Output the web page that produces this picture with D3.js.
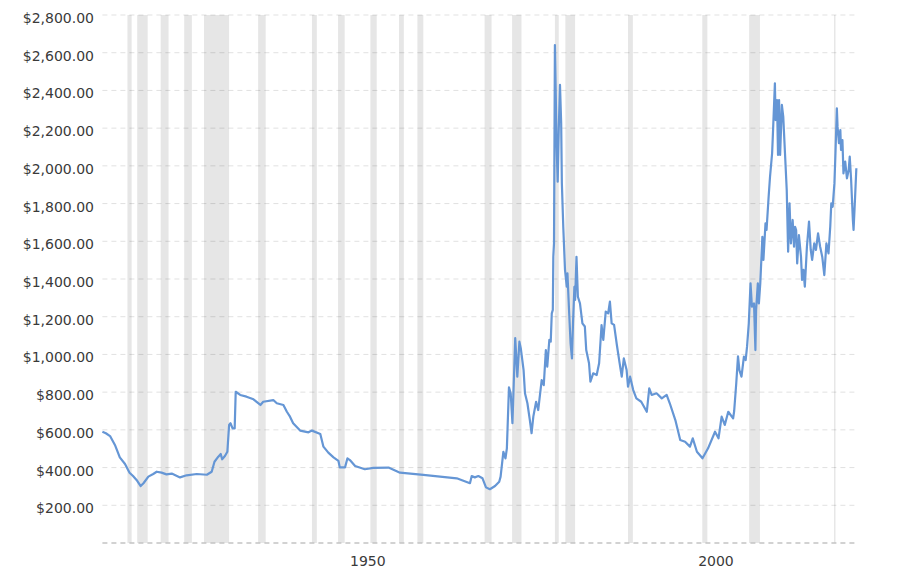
<!DOCTYPE html>
<html>
<head>
<meta charset="utf-8">
<script src="https://cdn.jsdelivr.net/npm/d3@7"></script>
<style>
  html, body { margin: 0; padding: 0; background: #fff; }
  svg { display: block; }
  text { font-family: "DejaVu Sans", Verdana, sans-serif; }
</style>
</head>
<body>
<svg id="chart" width="906" height="572"></svg>
<script>
// ---- data ----
const years = [
  1915.0,1915.5,1916.1,1916.8,1917.5,1918.25,1918.9,1919.4,1920.0,1920.5,1920.9,1921.6,1922.3,1922.8,1923.5,1924.2,1924.96,1926.15,1927.1,1928.55,
  1930.0,1930.7,1931.1,1931.65,1932.0,1932.2,1932.6,1932.95,1933.2,1933.4,1933.7,1934.0,1934.15,1934.8,1935.7,1936.7,1937.7,1938.1,1939.55,1940.05,
  1941.0,1941.5,1941.95,1942.4,1943.4,1944.6,1945.1,1946.3,1946.75,1947.45,1948.2,1948.9,1949.1,1949.85,1950.2,1950.55,1951.3,1952.7,1953.9,1956.1,
  1957.75,1961.1,1965.9,1967.8,1968.05,1968.5,1969.0,1969.6,1970.1,1970.66,1971.4,1972.0,1972.2,1972.6,1972.9,1973.1,1973.4,1973.65,1973.9,1974.3,
  1974.6,1974.9,1975.1,1975.5,1975.7,1976.05,1976.4,1976.65,1976.9,1977.3,1977.6,1978.1,1978.4,1978.7,1978.9,1979.2,1979.4,1979.55,1979.7,1979.77,
  1979.87,1980.0,1980.25,1980.4,1980.55,1980.73,1980.9,1981.0,1981.2,1981.45,1981.7,1981.8,1982.05,1982.25,1982.45,1982.6,1982.8,1982.9,1983.1,1983.3,
  1983.6,1983.95,1984.3,1984.5,1984.9,1985.1,1985.5,1986.0,1986.35,1986.7,1986.95,1987.3,1987.65,1987.9,1988.15,1988.5,1988.9,1989.3,1989.6,1989.9,
  1990.3,1990.5,1990.8,1991.25,1991.7,1992.4,1993.2,1993.55,1993.9,1994.6,1995.35,1996.05,1996.5,1997.3,1998.0,1998.7,1999.4,1999.8,2000.4,2001.2,
  2002.0,2003.0,2003.5,2003.95,2004.4,2004.9,2005.6,2005.75,2006.05,2006.3,2006.5,2006.8,2007.15,2007.4,2007.6,2007.85,2008.1,2008.3,2008.6,2008.8,
  2008.9,2009.15,2009.3,2009.5,2009.8,2009.95,2010.25,2010.4,2010.7,2010.9,2011.2,2011.3,2011.6,2011.7,2011.9,2012.05,2012.2,2012.35,2012.6,2012.8,
  2013.05,2013.3,2013.5,2013.7,2013.9,2014.15,2014.35,2014.5,2014.65,2014.8,2015.05,2015.35,2015.5,2015.7,2015.9,2016.2,2016.5,2016.75,2016.95,2017.25,
  2017.5,2017.8,2018.1,2018.4,2018.7,2019.0,2019.3,2019.55,2019.7,2019.9,2020.15,2020.3,2020.5,2020.6,2020.8,2021.0,2021.1,2021.3,2021.45,2021.7,
  2021.95,2022.2,2022.35,2022.55,2022.8,2022.9,2023.1,2023.3
];
const prices = [
  590,582,567,520,454,419,373,355,330,302,317,352,366,378,373,364,368,348,359,366,
  362,378,431,458,472,444,461,484,626,635,608,608,802,785,776,762,732,749,758,741,
  732,696,670,635,596,587,596,578,511,479,454,436,401,401,449,440,408,391,398,400,
  373,361,343,317,355,348,355,343,295,285,302,325,352,484,449,502,825,793,635,1086,
  882,1068,1032,917,794,741,652,582,670,749,705,864,837,1023,935,1077,1068,1218,1236,1518,
  1589,2641,2102,1916,2190,2429,2226,1907,1677,1448,1359,1430,1218,1059,979,1165,1359,1289,1518,1306,
  1271,1165,1148,1023,953,855,900,891,953,1156,1077,1227,1218,1280,1165,1157,1050,953,882,979,
  917,829,882,811,767,749,696,820,785,794,767,785,741,652,546,537,511,555,484,449,
  502,590,555,670,626,696,661,700,847,990,917,882,988,970,1041,1165,1377,1253,1271,1023,
  1236,1377,1271,1377,1624,1501,1695,1660,1836,1942,2067,2155,2438,2243,2349,2058,2349,2058,2323,2261,
  2067,1872,1545,1801,1589,1713,1571,1677,1660,1483,1633,1518,1395,1448,1359,1571,1704,1554,1501,1589,
  1554,1642,1571,1518,1421,1589,1536,1677,1801,1783,1907,2067,2305,2208,2120,2190,2084,2137,1960,2022,
  1934,1978,2049,1925,1713,1660,1819,1987
];
// US recessions (NBER), as fractional years
const recessionStarts = [1918.6,1920.0,1923.37,1926.75,1929.6,1937.37,1945.1,1948.85,1953.5,1957.6,1960.25,1969.9,1973.85,1980.0,1981.5,1990.5,2001.17,2007.9,2020.1];
const recessionEnds   = [1919.2,1921.5,1924.5,1927.85,1933.2,1938.45,1945.8,1949.8,1954.4,1958.3,1961.1,1970.9,1975.2,1980.55,1982.9,1991.2,2001.9,2009.45,2020.3];
const yTicks = [200,400,600,800,1000,1200,1400,1600,1800,2000,2200,2400,2600,2800];
const xTicks = [1950, 2000];

// ---- layout ----
const svg = d3.select("#chart");
const x = d3.scaleLinear().domain([1915.0, 2023.25]).range([102.4, 856]);
const y = d3.scaleLinear().domain([0, 2800]).range([543, 15]);
const gridRight = 855;

// recession bands
svg.append("g").selectAll("rect")
  .data(recessionStarts.map((s, i) => [s, recessionEnds[i]]))
  .join("rect")
  .attr("x", d => x(d[0]))
  .attr("width", d => Math.max(1.2, x(d[1]) - x(d[0])))
  .attr("y", y(2800))
  .attr("height", y(0) - y(2800))
  .attr("fill", "#e6e6e6");

// horizontal grid
svg.append("g").selectAll("line")
  .data(yTicks)
  .join("line")
  .attr("x1", x(1915)).attr("x2", gridRight)
  .attr("y1", d => y(d)).attr("y2", d => y(d))
  .attr("stroke", "rgba(0,0,0,0.12)")
  .attr("stroke-width", 1)
  .attr("stroke-dasharray", "5,4");

// baseline
svg.append("line")
  .attr("x1", x(1915)).attr("x2", gridRight)
  .attr("y1", y(0)).attr("y2", y(0))
  .attr("stroke", "#c4c4c4")
  .attr("stroke-width", 1.5)
  .attr("stroke-dasharray", "5,4");

// y axis labels
const yAxis = svg.append("g")
  .attr("transform", "translate(94,3)")
  .call(d3.axisLeft(y).tickValues(yTicks).tickSize(0).tickPadding(0).tickFormat(d3.format("$,.2f")));
yAxis.select(".domain").remove();
yAxis.selectAll("text")
  .attr("font-size", 14)
  .attr("fill", "#3a3a3a")
  .style("font-family", "'DejaVu Sans', Verdana, sans-serif");

// x axis labels
const xAxis = svg.append("g")
  .attr("transform", `translate(0,${y(0)})`)
  .call(d3.axisBottom(x).tickValues(xTicks).tickSize(0).tickPadding(0).tickFormat(d3.format("d")));
xAxis.select(".domain").remove();
xAxis.selectAll("text")
  .attr("font-size", 14)
  .attr("fill", "#3a3a3a")
  .attr("text-anchor", "start")
  .attr("dy", null)
  .attr("x", 3.5)
  .attr("y", 23)
  .style("font-family", "'DejaVu Sans', Verdana, sans-serif");

// price line
const line = d3.line()
  .x((d, i) => x(years[i]))
  .y(d => y(d));
svg.append("path")
  .datum(prices)
  .attr("d", line)
  .attr("fill", "none")
  .attr("stroke", "#6596d5")
  .attr("stroke-width", 2.2)
  .attr("stroke-linejoin", "round");
</script>
</body>
</html>
